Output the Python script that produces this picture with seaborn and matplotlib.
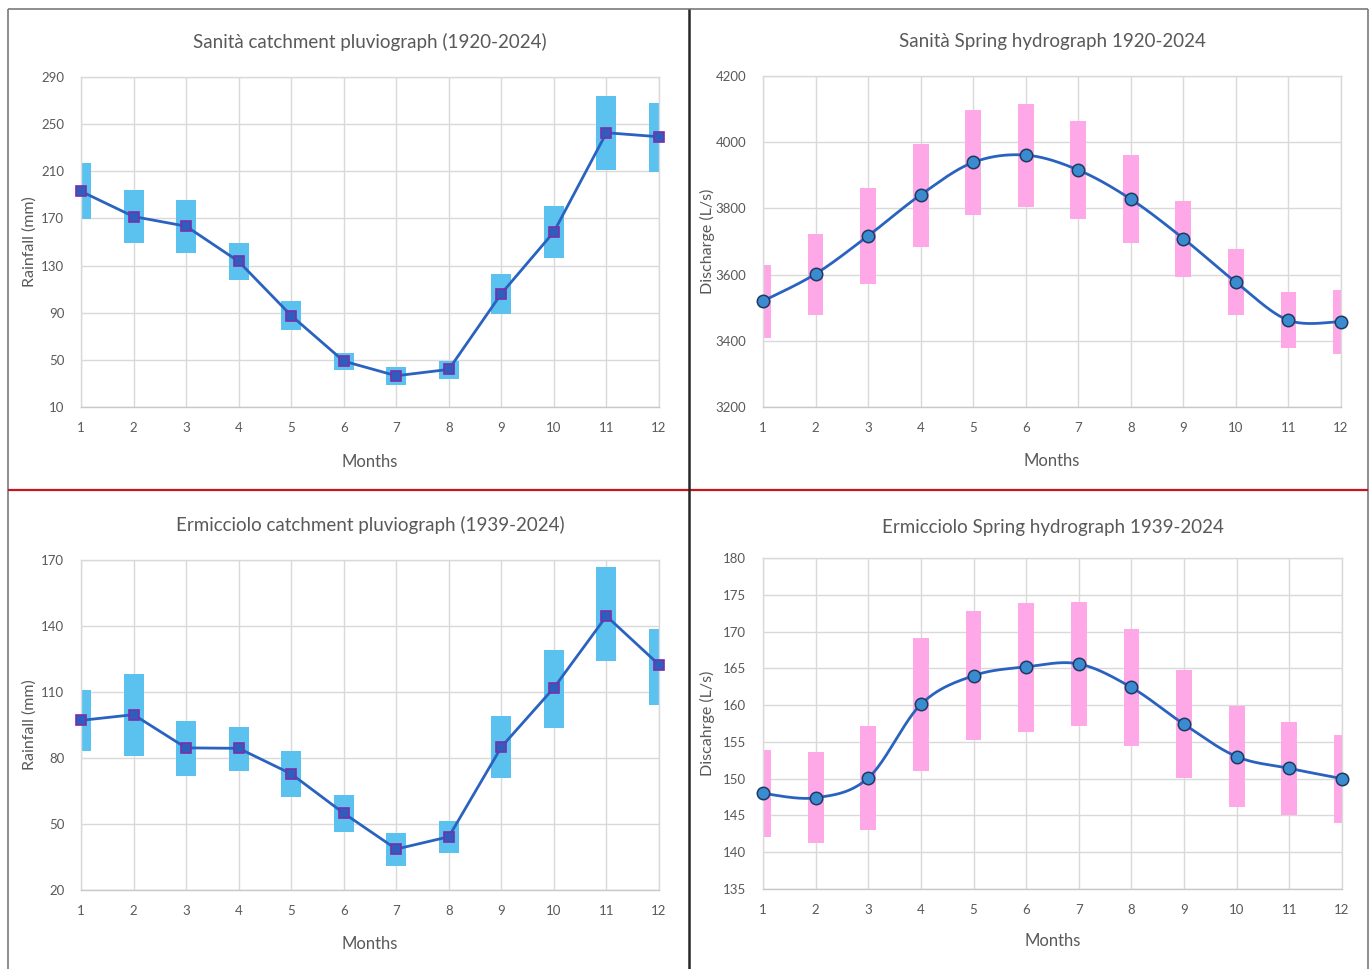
import numpy as np
import pandas as pd
import matplotlib
matplotlib.use("Agg")
import matplotlib.pyplot as plt
from matplotlib.lines import Line2D
import seaborn as sns

# ---------------- data ----------------
months = list(range(1, 13))

sanita_rain_mean = [193, 171.6, 163.4, 133.5, 87.6, 48.9, 36.5, 41.9, 106.2, 158.6, 242.7, 239.3]
sanita_rain_low  = [169.3, 149, 140.6, 117.7, 75, 41.3, 28.9, 34, 88.7, 136.3, 211.4, 209.4]
sanita_rain_high = [216.7, 194, 186, 149, 99.7, 56, 44, 49.2, 122.8, 180.3, 274, 268.3]

sanita_q_mean = [3520, 3602, 3717, 3841, 3939, 3961, 3916, 3828, 3709, 3577, 3462, 3458]
sanita_q_low  = [3409, 3478, 3571, 3684, 3780, 3804, 3767, 3694, 3593, 3478, 3378, 3361]
sanita_q_high = [3628, 3724, 3861, 3996, 4096, 4115, 4064, 3960, 3823, 3676, 3547, 3553]

ermi_rain_mean = [97.1, 99.7, 84.6, 84.4, 72.8, 54.9, 38.6, 44.2, 85, 111.9, 144.5, 122.4]
ermi_rain_low  = [83, 80.8, 71.9, 74.3, 62.2, 46.3, 30.7, 36.9, 70.7, 93.5, 124, 103.9]
ermi_rain_high = [110.9, 118.3, 97, 93.9, 83, 63.2, 45.9, 51.2, 98.9, 129.2, 166.7, 138.6]

ermi_q_mean = [148.0, 147.4, 150.1, 160.1, 164.0, 165.2, 165.6, 162.4, 157.4, 153.0, 151.4, 150.0]
ermi_q_low  = [142.1, 141.3, 143.0, 151.0, 155.3, 156.4, 157.2, 154.4, 150.1, 146.1, 145.1, 144.0]
ermi_q_high = [153.9, 153.6, 157.2, 169.1, 172.8, 173.9, 174.0, 170.3, 164.8, 159.9, 157.7, 155.9]

titles = ["Sanità catchment pluviograph (1920-2024)",
          "Sanità Spring hydrograph 1920-2024",
          "Ermicciolo catchment pluviograph (1939-2024)",
          "Ermicciolo Spring hydrograph 1939-2024"]
ylabels = ["Rainfall (mm)", "Discharge (L/s)", "Rainfall (mm)", "Discahrge (L/s)"]
xlabel = "Months"

yticks_list = [
    [10, 50, 90, 130, 170, 210, 250, 290],
    [3200, 3400, 3600, 3800, 4000, 4200],
    [20, 50, 80, 110, 140, 170],
    [135, 140, 145, 150, 155, 160, 165, 170, 175, 180],
]

# ---------------- style ----------------
sns.set_style("white")
plt.rcParams['font.family'] = ['Lato', 'DejaVu Sans']

W, H = 1371, 969
fig = plt.figure(figsize=(W / 100, H / 100), dpi=100)
fig.patch.set_facecolor("white")

TXT = "#595959"
GRID = "#D9D9D9"
LINE_BLUE = "#2A62C0"
BAR_BLUE = "#5BC2F0"
PINK = "#FFA8E8"


def rect(x0, x1, y0, y1):
    return [x0 / W, 1 - y1 / H, (x1 - x0) / W, (y1 - y0) / H]


def smooth(x, y, n=40):
    x = np.asarray(x, float)
    y = np.asarray(y, float)
    px = np.concatenate([[x[0]], x, [x[-1]]])
    py = np.concatenate([[y[0]], y, [y[-1]]])
    xs, ys = [], []
    t = np.linspace(0, 1, n)
    for i in range(1, len(px) - 2):
        p0x, p0y = px[i], py[i]
        p3x, p3y = px[i + 1], py[i + 1]
        b1x = p0x + (px[i + 1] - px[i - 1]) / 6
        b1y = p0y + (py[i + 1] - py[i - 1]) / 6
        b2x = p3x - (px[i + 2] - px[i]) / 6
        b2y = p3y - (py[i + 2] - py[i]) / 6
        bx = (1 - t) ** 3 * p0x + 3 * (1 - t) ** 2 * t * b1x + 3 * (1 - t) * t ** 2 * b2x + t ** 3 * p3x
        by = (1 - t) ** 3 * p0y + 3 * (1 - t) ** 2 * t * b1y + 3 * (1 - t) * t ** 2 * b2y + t ** 3 * p3y
        xs.append(bx)
        ys.append(by)
    return np.concatenate(xs), np.concatenate(ys)


def setup(ax, yticks, title, ylabel, title_y, months_y, ylabel_x, box):
    ax.set_xlim(1, 12)
    ax.set_ylim(yticks[0], yticks[-1])
    ax.set_xticks(months)
    ax.set_yticks(yticks)
    ax.grid(True, color=GRID, linewidth=1.0)
    ax.set_axisbelow(True)
    for s in ax.spines.values():
        s.set_color(GRID)
        s.set_linewidth(1.0)
    ax.spines['bottom'].set_color("#C8C8C8")
    ax.tick_params(axis='both', length=0, colors=TXT, labelsize=9.5)
    ax.tick_params(axis='x', pad=11)
    ax.tick_params(axis='y', pad=12)
    ax.set_xlabel("")
    ax.set_ylabel("")
    x0, x1, y0, y1 = box
    cx = (x0 + x1) / 2 / W
    cy = 1 - (y0 + y1) / 2 / H
    fig.text(cx, 1 - title_y / H, title, ha='center', va='center', fontsize=13.5, color=TXT)
    fig.text(cx, 1 - months_y / H, xlabel, ha='center', va='center', fontsize=12, color=TXT)
    fig.text(ylabel_x / W, cy, ylabel, ha='center', va='center', rotation=90, fontsize=11.5, color=TXT)


def rain_panel(box, mean, low, high, yticks, title, ylabel, title_y, months_y, ylabel_x):
    ax = fig.add_axes(rect(*box))
    df = pd.DataFrame({"month": months, "mean": mean, "low": low, "high": high})
    ax.bar(df["month"], df["high"] - df["low"], bottom=df["low"], width=0.38,
           color=BAR_BLUE, edgecolor="none", zorder=2)
    sns.lineplot(data=df, x="month", y="mean", ax=ax, color=LINE_BLUE, linewidth=2.0,
                 marker="s", markersize=7.5, markerfacecolor="#2F5DBE",
                 markeredgecolor="#7B2FA8", markeredgewidth=1.2, zorder=3, clip_on=False)
    setup(ax, yticks, title, ylabel, title_y, months_y, ylabel_x, box)
    return ax


def flow_panel(box, mean, low, high, yticks, title, ylabel, title_y, months_y, ylabel_x):
    ax = fig.add_axes(rect(*box))
    df = pd.DataFrame({"month": months, "mean": mean, "low": low, "high": high})
    ax.bar(df["month"], df["high"] - df["low"], bottom=df["low"], width=0.30,
           color=PINK, edgecolor="none", zorder=2)
    sx, sy = smooth(df["month"], df["mean"])
    ax.plot(sx, sy, color=LINE_BLUE, linewidth=2.0, zorder=3, clip_on=False)
    sns.scatterplot(data=df, x="month", y="mean", ax=ax, marker="o", s=80,
                    color="#3A8BD0", edgecolor="#1E3A5F", linewidth=1.1, zorder=4, clip_on=False)
    setup(ax, yticks, title, ylabel, title_y, months_y, ylabel_x, box)
    return ax


rain_panel((81, 659, 77, 407), sanita_rain_mean, sanita_rain_low, sanita_rain_high,
           yticks_list[0], titles[0], ylabels[0], 42, 462, 30)
flow_panel((763, 1341, 76, 407), sanita_q_mean, sanita_q_low, sanita_q_high,
           yticks_list[1], titles[1], ylabels[1], 41, 461, 707)
rain_panel((81, 659, 560, 890), ermi_rain_mean, ermi_rain_low, ermi_rain_high,
           yticks_list[2], titles[2], ylabels[2], 525, 944, 30)
flow_panel((763, 1342, 558, 889), ermi_q_mean, ermi_q_low, ermi_q_high,
           yticks_list[3], titles[3], ylabels[3], 527, 941, 707)

# ---------------- frame lines ----------------
def fline(x0, y0, x1, y1, color, lw):
    fig.add_artist(Line2D([x0 / W, x1 / W], [1 - y0 / H, 1 - y1 / H],
                          transform=fig.transFigure, color=color, linewidth=lw,
                          solid_capstyle='butt'))

fline(8, 8.5, 1368, 8.5, "#7A7A7A", 1.2)
fline(8, 8.5, 8, 969, "#7A7A7A", 1.2)
fline(1368, 8.5, 1368, 969, "#7A7A7A", 1.2)
fline(8, 490.5, 1368, 490.5, "#C8141C", 1.6)
fline(689, 8.5, 689, 969, "#262626", 1.8)

fig.savefig("out.png", dpi=100, facecolor="white")
